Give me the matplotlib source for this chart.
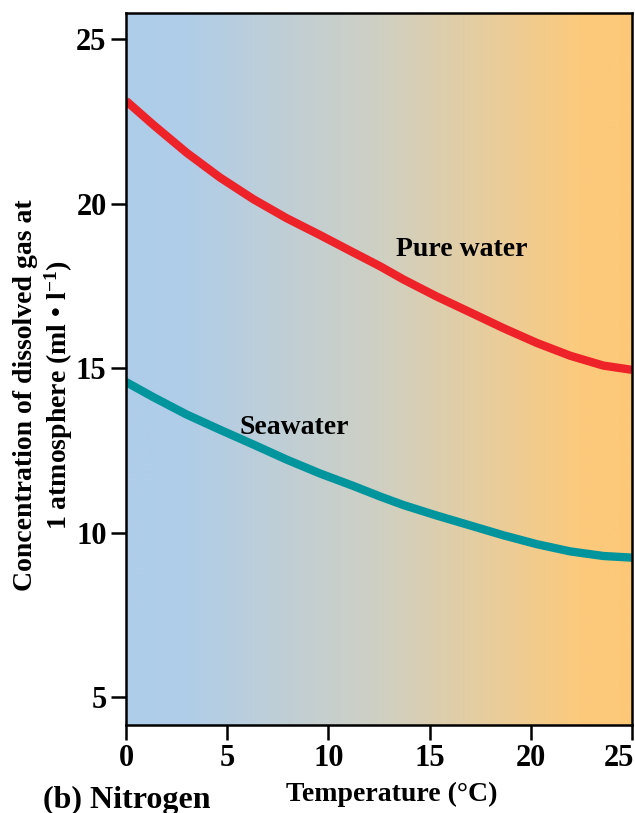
import numpy as np
import matplotlib.pyplot as plt
import matplotlib.transforms as mtransforms
from matplotlib.colors import LinearSegmentedColormap

plt.switch_backend('agg')
plt.rcParams['font.family'] = ['Liberation Serif', 'DejaVu Serif']
plt.rcParams['font.weight'] = 'bold'
plt.rcParams['mathtext.fontset'] = 'custom'
plt.rcParams['mathtext.rm'] = 'Liberation Serif:bold'
plt.rcParams['mathtext.bf'] = 'Liberation Serif:bold'
plt.rcParams['mathtext.default'] = 'rm'

# data
temp = [0, 1.35, 3.0, 4.64, 6.29, 7.94, 9.58, 11.23, 12.55, 13.7, 15.35,
        17.0, 18.64, 20.29, 21.94, 23.58, 25.0]
pure_water = [23.13, 22.40, 21.55, 20.80, 20.14, 19.56, 19.05, 18.52, 18.10, 17.70, 17.18,
              16.70, 16.22, 15.77, 15.38, 15.08, 14.95]
seawater = [14.58, 14.12, 13.59, 13.13, 12.68, 12.22, 11.80, 11.42, 11.10, 10.84, 10.52,
            10.22, 9.92, 9.65, 9.43, 9.29, 9.24]

xticks = [0, 5, 10, 15, 20, 25]
yticks = [5, 10, 15, 20, 25]

fig = plt.figure(figsize=(6.35, 8.13), dpi=100)
ax = fig.add_axes([0.1984, 0.1082, 0.7969, 0.8758])

xlim = (0, 25)
ylim = (4.15, 25.8)

# background gradient blue -> grey -> orange
cm = LinearSegmentedColormap.from_list('bg', [(0, '#aecde9'), (0.12, '#b0cde8'),
                                              (0.5, '#cfd0c3'), (0.9, '#fcca7c'),
                                              (1, '#fcc878')])
grad = np.linspace(0, 1, 256).reshape(1, -1)
ax.imshow(grad, cmap=cm, aspect='auto', extent=[xlim[0], xlim[1], ylim[0], ylim[1]],
          zorder=0, interpolation='bilinear')

ax.plot(temp, pure_water, color='#ee2229', lw=6, solid_capstyle='butt', zorder=2)
ax.plot(temp, seawater, color='#00959d', lw=6, solid_capstyle='butt', zorder=2)

ax.text(16.6, 18.6, 'Pure water', fontsize=20, ha='center', va='center')
ax.text(8.3, 13.2, 'Seawater', fontsize=20, ha='center', va='center')

ax.set_xlim(xlim)
ax.set_ylim(ylim)
ax.set_xticks(xticks)
ax.set_yticks(yticks)
ax.tick_params(direction='out', length=11, width=1.8, labelsize=22, pad=3)
for s in ax.spines.values():
    s.set_linewidth(1.8)

# last x tick label sits slightly inside the figure edge
lbl = ax.get_xticklabels()[-1]
lbl.set_transform(lbl.get_transform() + mtransforms.ScaledTranslation(-0.13, 0, fig.dpi_scale_trans))

fig.text(392 / 635, 1 - 794 / 813, 'Temperature (°C)', fontsize=20, ha='center', va='center')
fig.text(44 / 635, 1 - 395 / 813, 'Concentration of dissolved gas at\n1 atmosphere (ml • l$^{-1}$)',
         fontsize=20, rotation=90, ha='center', va='center', multialignment='center',
         linespacing=1.15)
fig.text(43 / 635, 1 - 800 / 813, '(b) Nitrogen', fontsize=23, ha='left', va='center')

plt.savefig('out.png', dpi=100)
